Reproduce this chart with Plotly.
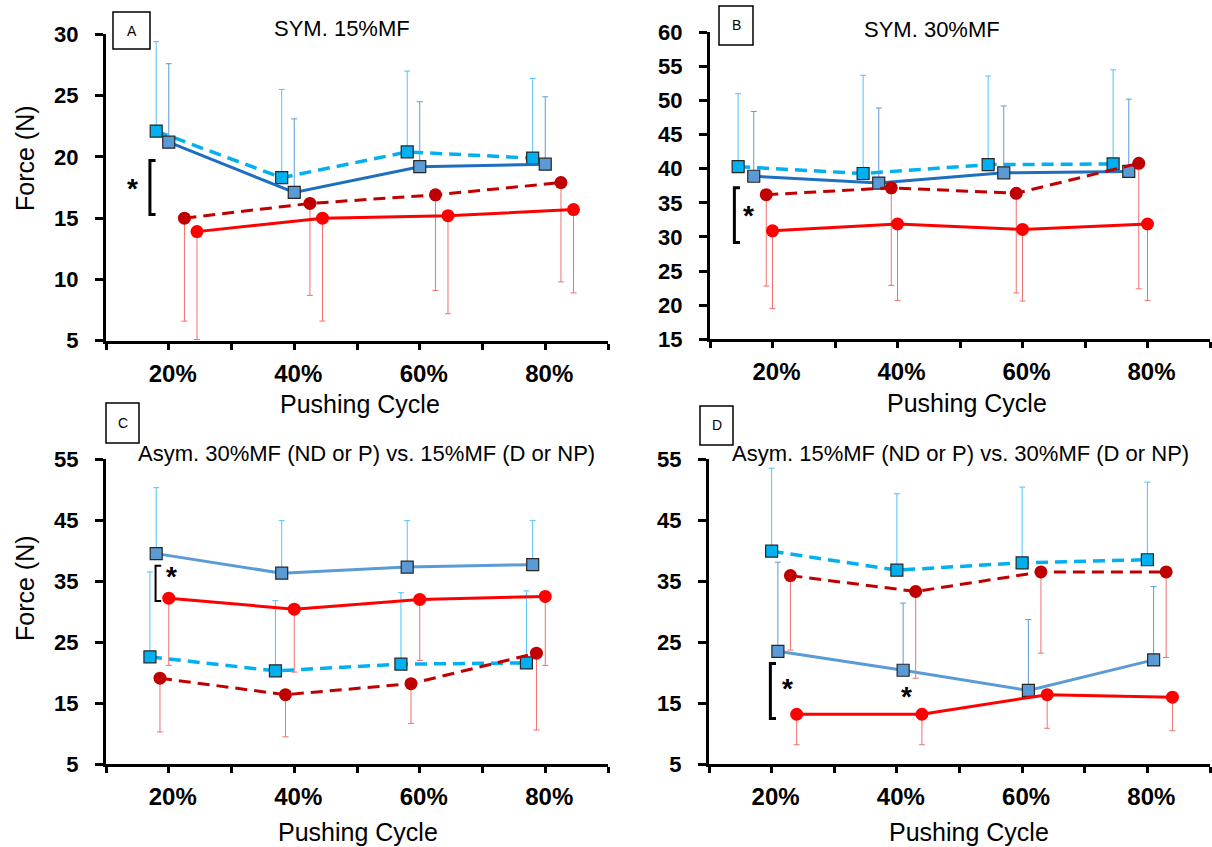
import plotly.graph_objects as go

W, H = 1212, 847

# ---------------- data (Force in N) ----------------
# x positions (pushing cycle %, series are offset around 20/40/60/80)
tick_vals = [10, 20, 30, 40, 50, 60, 70, 80, 90]
tick_text = ["", "20%", "", "40%", "", "60%", "", "80%", ""]

# Panel A  SYM. 15%MF
A_lb_x = [18, 38, 58, 78];        A_lb_y = [22.1, 18.3, 20.4, 19.9];  A_lb_up = [29.4, 25.5, 27.0, 26.4]
A_b_x = [20, 40, 60, 80];         A_b_y = [21.2, 17.1, 19.2, 19.4];   A_b_up = [27.6, 23.1, 24.5, 24.9]
A_dr_x = [22.5, 42.5, 62.5, 82.5]; A_dr_y = [15.0, 16.2, 16.9, 17.9]; A_dr_lo = [6.6, 8.7, 9.1, 9.8]
A_r_x = [24.5, 44.5, 64.5, 84.5];  A_r_y = [13.9, 15.0, 15.2, 15.7];  A_r_lo = [5.1, 6.6, 7.2, 8.9]

# Panel B  SYM. 30%MF
B_lb_x = [14.5, 34.5, 54.5, 74.5]; B_lb_y = [40.3, 39.3, 40.6, 40.7]; B_lb_up = [51.0, 53.7, 53.6, 54.5]
B_b_x = [17, 37, 57, 77];          B_b_y = [38.9, 37.9, 39.4, 39.6];  B_b_up = [48.4, 48.9, 49.2, 50.2]
B_dr_x = [19, 39, 59, 78.6];       B_dr_y = [36.2, 37.2, 36.4, 40.8]; B_dr_lo = [22.8, 22.9, 21.8, 22.4]
B_r_x = [20, 40, 60, 80];          B_r_y = [30.9, 31.9, 31.1, 31.9];  B_r_lo = [19.5, 20.7, 20.6, 20.7]

# Panel C  Asym. 30%MF (ND or P) vs. 15%MF (D or NP)
C_lb_x = [17, 37, 57, 77];         C_lb_y = [22.6, 20.3, 21.4, 21.6]; C_lb_up = [36.5, 31.8, 33.1, 33.4]
C_b_x = [18, 38, 58, 78];          C_b_y = [39.5, 36.3, 37.3, 37.7];  C_b_up = [50.3, 44.9, 44.9, 44.9]
C_dr_x = [18.6, 38.6, 58.6, 78.6]; C_dr_y = [19.1, 16.4, 18.2, 23.2]; C_dr_lo = [10.3, 9.5, 11.7, 10.6]
C_r_x = [20, 40, 60, 80];          C_r_y = [32.2, 30.4, 32.0, 32.5];  C_r_lo = [21.2, 20.1, 22.0, 21.2]

# Panel D  Asym. 15%MF (ND or P) vs. 30%MF (D or NP)
D_lb_x = [20, 40, 60, 80];         D_lb_y = [39.9, 36.8, 38.0, 38.5]; D_lb_up = [53.5, 49.3, 50.4, 51.2]
D_b_x = [21, 41, 61, 81];          D_b_y = [23.5, 20.4, 17.1, 22.1];  D_b_up = [38.1, 31.4, 28.7, 34.1]
D_dr_x = [23, 43, 63, 83];         D_dr_y = [35.9, 33.3, 36.5, 36.5]; D_dr_lo = [23.7, 19.1, 23.2, 22.5]
D_r_x = [24, 44, 64, 84];          D_r_y = [13.2, 13.2, 16.4, 16.0];  D_r_lo = [8.2, 8.2, 10.9, 10.5]

# significance brackets: (x, y_low, y_high) and stars (x, y)
A_bracket = (17.0, 15.3, 19.7); A_star = [(14.3, 17.4)]
B_bracket = (13.9, 29.2, 37.2); B_star = [(16.1, 33.1)]
C_bracket = (17.9, 31.75, 37.5); C_star = [(20.4, 35.8)]
D_bracket = (19.8, 12.5, 21.5); D_star = [(22.6, 17.4), (41.6, 16.1)]

# ---------------- style ----------------
FONT = "Liberation Sans, Arial, sans-serif"
LB = "#00B0F0"; LB_ERR = "#4FC3F7"
DB_AB = "#1F6FC0"; DB_CD = "#5B9BD5"; DB_MK = "#5B9BD5"; DB_ERR = "#5B9BD5"
DR = "#C00000"; R = "#FF0000"; R_ERR = "#F07070"

fig = go.Figure()


def series(xs, ys, bound, up, line_color, dash, symbol, mk_color, err_color, ax, lw):
    n = len(ys)
    if up:
        arr = [b - y for b, y in zip(bound, ys)]
        arrm = [0] * n
    else:
        arr = [0] * n
        arrm = [y - b for b, y in zip(bound, ys)]
    is_sq = symbol == "square"
    fig.add_trace(go.Scatter(
        x=xs, y=ys, mode="lines+markers",
        xaxis="x" + ax, yaxis="y" + ax,
        line=dict(color=line_color, width=lw, dash=dash),
        marker=dict(symbol=symbol, size=12 if is_sq else 13, color=mk_color,
                    line=dict(color="#262626", width=1.2) if is_sq else dict(width=0)),
        error_y=dict(type="data", symmetric=False, array=arr, arrayminus=arrm,
                     color=err_color, thickness=1, width=3),
        showlegend=False, hoverinfo="x+y"))


DASH = "12px,7px"
# A
series(A_lb_x, A_lb_y, A_lb_up, True, LB, DASH, "square", LB, LB_ERR, "", 3.5)
series(A_b_x, A_b_y, A_b_up, True, DB_AB, "solid", "square", DB_MK, DB_ERR, "", 3)
series(A_dr_x, A_dr_y, A_dr_lo, False, DR, DASH, "circle", DR, R_ERR, "", 3)
series(A_r_x, A_r_y, A_r_lo, False, R, "solid", "circle", R, R_ERR, "", 3)
# B
series(B_lb_x, B_lb_y, B_lb_up, True, LB, DASH, "square", LB, LB_ERR, "2", 3.5)
series(B_b_x, B_b_y, B_b_up, True, DB_AB, "solid", "square", DB_MK, DB_ERR, "2", 3)
series(B_dr_x, B_dr_y, B_dr_lo, False, DR, DASH, "circle", DR, R_ERR, "2", 3)
series(B_r_x, B_r_y, B_r_lo, False, R, "solid", "circle", R, R_ERR, "2", 3)
# C
series(C_lb_x, C_lb_y, C_lb_up, True, LB, DASH, "square", LB, LB_ERR, "3", 3.5)
series(C_b_x, C_b_y, C_b_up, True, DB_CD, "solid", "square", DB_MK, LB_ERR, "3", 3)
series(C_dr_x, C_dr_y, C_dr_lo, False, DR, DASH, "circle", DR, R_ERR, "3", 3)
series(C_r_x, C_r_y, C_r_lo, False, R, "solid", "circle", R, R_ERR, "3", 3)
# D
series(D_lb_x, D_lb_y, D_lb_up, True, LB, DASH, "square", LB, LB_ERR, "4", 3.5)
series(D_b_x, D_b_y, D_b_up, True, DB_CD, "solid", "square", DB_MK, DB_ERR, "4", 3)
series(D_dr_x, D_dr_y, D_dr_lo, False, DR, DASH, "circle", DR, R_ERR, "4", 3)
series(D_r_x, D_r_y, D_r_lo, False, R, "solid", "circle", R, R_ERR, "4", 3)


def px_x(p):
    return p / W


def px_y(p):
    return 1 - p / H


# panel geometry in pixels (left, right, top, bottom of plot area)
panels = {
    "": (106, 608, 34.3, 340.7, [5, 30], 5),
    "2": (710, 1210, 32.3, 339.3, [15, 60], 5),
    "3": (106, 608, 459, 764.3, [5, 55], 10),
    "4": (709, 1210, 459, 764.3, [5, 55], 10),
}

lay = {}
for k, (l, r, t, b, yr, dt) in panels.items():
    lay["xaxis" + k] = dict(
        domain=[px_x(l), px_x(r)], anchor="y" + k, range=[10, 90], automargin=False,
        tickmode="array", tickvals=tick_vals, ticktext=tick_text,
        ticks="outside", ticklen=6, tickwidth=2.5, tickcolor="black",
        showline=True, linewidth=3, linecolor="black",
        showgrid=False, zeroline=False, ticklabelstandoff=3, ticklabelshift=4,
        tickfont=dict(family=FONT, size=24, color="black", weight="bold"))
    lay["yaxis" + k] = dict(
        domain=[px_y(b), px_y(t)], anchor="x" + k, range=yr, automargin=False,
        tick0=5, dtick=dt, ticks="outside", ticklen=8, tickwidth=2.5, tickcolor="black",
        showline=True, linewidth=3, linecolor="black",
        showgrid=False, zeroline=False, ticklabelstandoff=12,
        tickfont=dict(family=FONT, size=22, color="black", weight="bold"))

fig.update_layout(
    width=W, height=H, margin=dict(l=0, r=0, t=0, b=0, pad=0, autoexpand=False),
    paper_bgcolor="white", plot_bgcolor="white",
    font=dict(family=FONT, color="black"), showlegend=False, **lay)

shapes = []
annotations = []

# brackets and stars
for k, br, stars, w in [("", A_bracket, A_star, 3), ("2", B_bracket, B_star, 3),
                        ("3", C_bracket, C_star, 2), ("4", D_bracket, D_star, 3)]:
    xb, ylo, yhi = br
    xs = xb + 0.9
    shapes.append(dict(type="path", xref="x" + k, yref="y" + k,
                       path=f"M {xs} {yhi} L {xb} {yhi} L {xb} {ylo} L {xs} {ylo}",
                       line=dict(color="black", width=w)))
    for sx, sy in stars:
        annotations.append(dict(x=sx, y=sy, xref="x" + k, yref="y" + k, text="<b>*</b>",
                                showarrow=False, font=dict(size=28, family=FONT, color="black"),
                                xanchor="center", yanchor="middle"))

# panel letter boxes
for letter, (l, r, t, b) in {"A": (113, 150, 12, 49), "B": (719, 753, 6, 45),
                             "C": (106, 139, 403, 443), "D": (700, 733, 406, 445)}.items():
    shapes.append(dict(type="rect", xref="paper", yref="paper",
                       x0=px_x(l), x1=px_x(r), y0=px_y(b), y1=px_y(t),
                       line=dict(color="black", width=1.5), fillcolor="white"))
    annotations.append(dict(x=px_x((l + r) / 2), y=px_y((t + b) / 2), xref="paper", yref="paper",
                            text=letter, showarrow=False, font=dict(size=14, family=FONT),
                            xanchor="center", yanchor="middle"))

# titles
for txt, cx, cy in [("SYM. 15%MF", 342, 28), ("SYM. 30%MF", 932, 30),
                    ("Asym. 30%MF (ND or P) vs. 15%MF (D or NP)", 366, 453),
                    ("Asym. 15%MF (ND or P) vs. 30%MF (D or NP)", 960, 453)]:
    annotations.append(dict(x=px_x(cx), y=px_y(cy), xref="paper", yref="paper", text=txt,
                            showarrow=False, font=dict(size=22, family=FONT),
                            xanchor="center", yanchor="middle"))

# axis titles
for cx, cy in [(360, 404), (967, 403), (358, 832), (969, 832)]:
    annotations.append(dict(x=px_x(cx), y=px_y(cy), xref="paper", yref="paper", text="Pushing Cycle",
                            showarrow=False, font=dict(size=25, family=FONT),
                            xanchor="center", yanchor="middle"))
for cy in [158, 588]:
    annotations.append(dict(x=px_x(25), y=px_y(cy), xref="paper", yref="paper", text="Force (N)",
                            textangle=-90, showarrow=False, font=dict(size=25, family=FONT),
                            xanchor="center", yanchor="middle"))

fig.update_layout(shapes=shapes, annotations=annotations)
fig.write_html("out.html")
